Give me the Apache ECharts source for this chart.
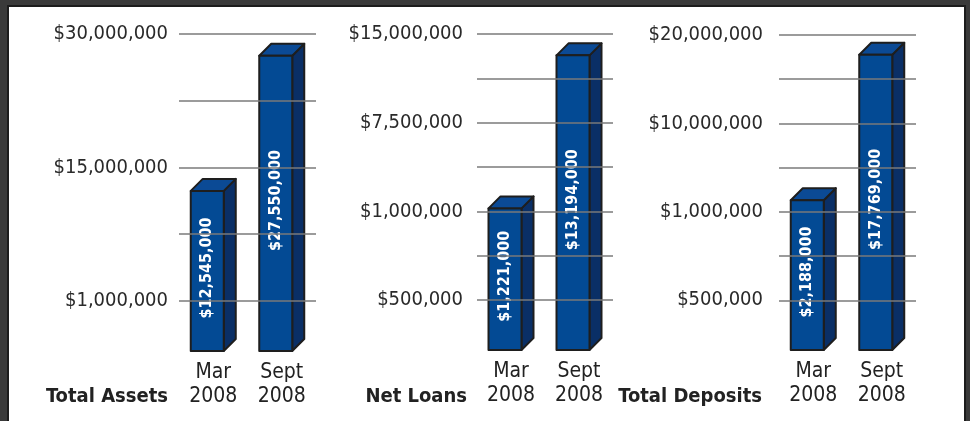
<!DOCTYPE html>
<html>
<head>
<meta charset="utf-8">
<script src="https://cdn.jsdelivr.net/npm/echarts@6/dist/echarts.min.js"></script>
<style>
  html, body { margin: 0; padding: 0; background: #3a3a3a; }
  #frame { position: absolute; left: 7px; top: 5px; width: 955px; height: 420px; background: #ffffff; border: 2px solid #1c1c1c; border-bottom: none; }
  #chart { position: absolute; left: 0; top: 0; width: 970px; height: 421px; }
</style>
</head>
<body>
<div id="frame"></div>
<div id="chart"></div>
<script>
// ---- data ----
const categories = ['Mar\n2008', 'Sept\n2008'];
const panelTitles = ['Total Assets', 'Net Loans', 'Total Deposits'];

const totalAssets   = [12545000, 27550000];
const netLoans      = [1221000, 13194000];
const totalDeposits = [2188000, 17769000];

// tick values (labelled gridlines) bottom -> top
const assetsTicks   = [1000000, 15000000, 30000000];
const loansTicks    = [500000, 1000000, 7500000, 15000000];
const depositsTicks = [500000, 1000000, 10000000, 20000000];

const FONT_NARROW = '"DejaVu Sans Condensed", "Liberation Sans Narrow", "Arial Narrow", sans-serif';

function money(v) { return '$' + v.toLocaleString('en-US'); }

// piecewise-linear axis: labelled tick i sits at slot i*step
function toSlot(v, ticks, step) {
  if (v <= ticks[0]) return (v - ticks[0]) / ticks[0] * step;
  for (let i = 0; i < ticks.length - 1; i++) {
    if (v <= ticks[i + 1]) {
      return step * (i + (v - ticks[i]) / (ticks[i + 1] - ticks[i]));
    }
  }
  return step * (ticks.length - 1);
}

const panels = [
  { values: totalAssets,   ticks: assetsTicks,   step: 2, min: -0.75,  interval: 0.25,  left: 179, right: 970 - 316, top: 34, bottom: 421 - 351, labelMargin: 11, titleX: 168 },
  { values: netLoans,      ticks: loansTicks,    step: 2, min: -1.125, interval: 0.125, left: 477, right: 970 - 613, top: 34, bottom: 421 - 350, labelMargin: 14, titleX: 467 },
  { values: totalDeposits, ticks: depositsTicks, step: 2, min: -1.125, interval: 0.125, left: 779, right: 970 - 916, top: 35, bottom: 421 - 350, labelMargin: 16, titleX: 762 }
];

const chart = echarts.init(document.getElementById('chart'), null, { renderer: 'canvas' });

const grids = [], xAxes = [], yAxes = [], series = [], graphics = [];

panels.forEach((p, k) => {
  const max = p.step * (p.ticks.length - 1);
  const labelMap = {};
  p.ticks.forEach((t, i) => { labelMap[(i * p.step).toFixed(3)] = money(t); });
  const gridVals = [];
  for (let s = 0; s <= max; s++) gridVals.push(s);

  grids.push({ left: p.left, right: p.right, top: p.top, bottom: p.bottom, containLabel: false, outerBoundsMode: 'none' });
  xAxes.push({
    type: 'category', gridIndex: k, data: categories,
    axisLine: { show: false }, axisTick: { show: false }, splitLine: { show: false },
    axisLabel: { color: '#222', fontFamily: FONT_NARROW, fontSize: 21, lineHeight: 24, margin: 10, interval: 0 }
  });
  yAxes.push({
    type: 'value', gridIndex: k, min: p.min, max: max, interval: p.interval,
    axisLine: { show: false }, axisTick: { show: false }, splitLine: { show: false },
    axisLabel: {
      color: '#2a2a2a', fontFamily: FONT_NARROW, fontSize: 20, margin: p.labelMargin,
      formatter: (val) => labelMap[Number(val).toFixed(3)] || ''
    }
  });
  series.push({
    type: 'line', xAxisIndex: k, yAxisIndex: k, data: [], silent: true, z: 1,
    markLine: {
      silent: true, symbol: ['none', 'none'], label: { show: false },
      lineStyle: { color: '#7a7a7a', width: 1.5, type: 'solid' },
      emphasis: { disabled: true },
      data: gridVals.map(v => ({ yAxis: v }))
    }
  });
  const yMin = p.min;
  series.push({
    type: 'custom', xAxisIndex: k, yAxisIndex: k, z: 3,
    data: p.values.map((v, i) => [i, toSlot(v, p.ticks, p.step), v]),
    renderItem: (params, api) => {
      const c = api.value(0), slot = api.value(1), raw = api.value(2);
      const topPt = api.coord([c, slot]);
      const basePt = api.coord([c, yMin]);
      const W = 33, D = 12, H = 12;
      const x0 = topPt[0] - (W + D) / 2;
      const yT = topPt[1], yB = basePt[1];
      const stroke = { stroke: '#1e1e1e', lineWidth: 2, lineJoin: 'round' };
      return {
        type: 'group',
        children: [
          { type: 'polygon', shape: { points: [[x0 + W, yT], [x0 + W + D, yT - H], [x0 + W + D, yB - H], [x0 + W, yB]] },
            style: Object.assign({ fill: '#0a2f66' }, stroke) },
          { type: 'polygon', shape: { points: [[x0, yT], [x0 + D, yT - H], [x0 + W + D, yT - H], [x0 + W, yT]] },
            style: Object.assign({ fill: '#0b4a95' }, stroke) },
          { type: 'rect', shape: { x: x0, y: yT, width: W, height: yB - yT },
            style: Object.assign({ fill: '#034a94' }, stroke) },
          { type: 'text', x: x0 + W / 2, y: (yT + yB) / 2 - 3, rotation: Math.PI / 2,
            style: { text: money(raw), fill: '#ffffff', font: 'bold 16px ' + FONT_NARROW, align: 'center', verticalAlign: 'middle' } }
        ]
      };
    }
  });
  graphics.push({
    type: 'text', x: p.titleX, y: 397,
    style: { text: panelTitles[k], fill: '#222222', font: 'bold 20px ' + FONT_NARROW, align: 'right', verticalAlign: 'middle' }
  });
});

chart.setOption({
  animation: false,
  backgroundColor: 'transparent',
  grid: grids, xAxis: xAxes, yAxis: yAxes, series: series, graphic: graphics
});
</script>
</body>
</html>
